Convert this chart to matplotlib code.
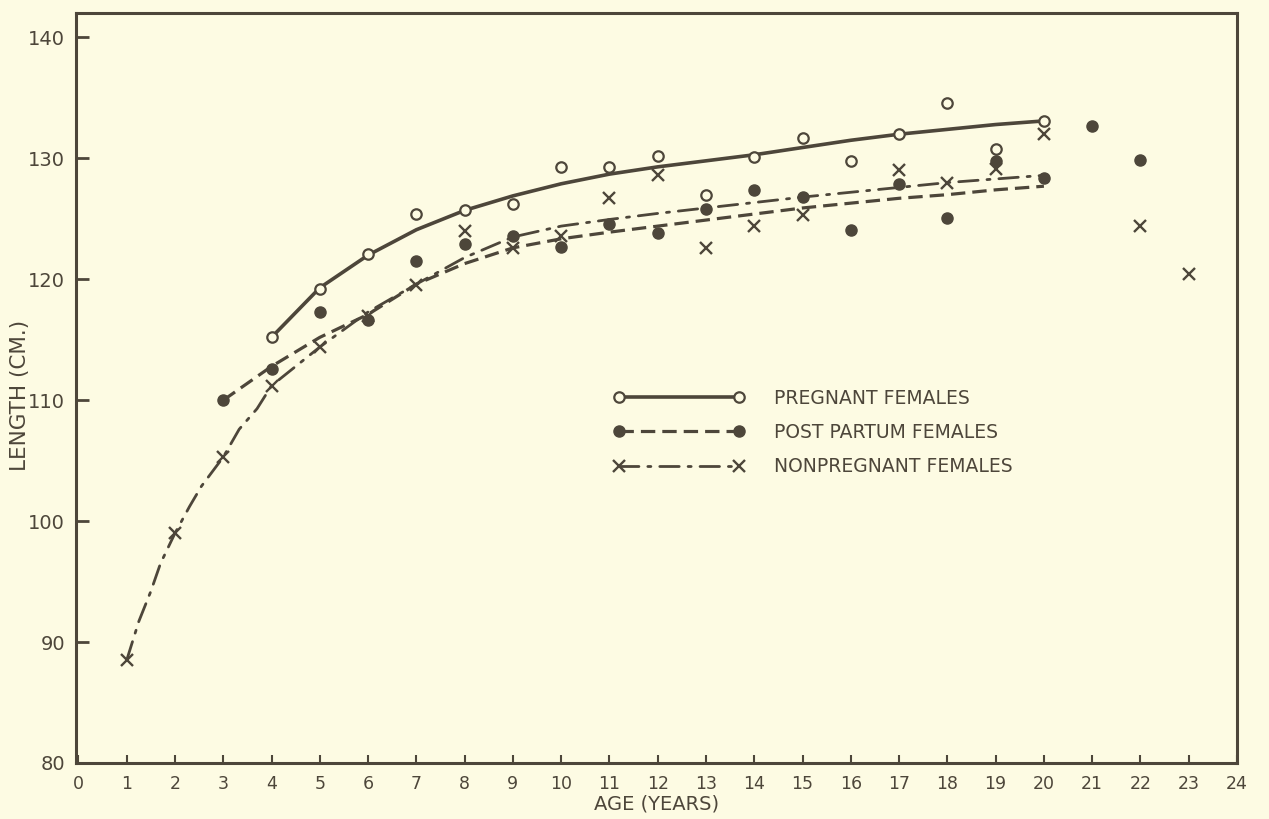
import matplotlib
matplotlib.use("Agg")
import matplotlib.pyplot as plt
from matplotlib.lines import Line2D

# ---- observed data points ----
preg_age = [4, 5, 6, 7, 8, 9, 10, 11, 12, 13, 14, 15, 16, 17, 18, 19, 20]
preg_len = [115.2, 119.2, 122.1, 125.4, 125.7, 126.2, 129.3, 129.3, 130.2, 127.0,
            130.1, 131.7, 129.8, 132.0, 134.6, 130.8, 133.1]

pp_age = [3, 4, 5, 6, 7, 8, 9, 10, 11, 12, 13, 14, 15, 16, 17, 18, 19, 20, 21, 22]
pp_len = [110.0, 112.6, 117.3, 116.6, 121.5, 122.9, 123.6, 122.7, 124.6, 123.8,
          125.8, 127.4, 126.8, 124.1, 127.9, 125.1, 129.8, 128.4, 132.7, 129.9]

np_age = [1, 2, 3, 4, 5, 6, 7, 8, 9, 10, 11, 12, 13, 14, 15, 17, 18, 19, 20, 22, 23]
np_len = [88.5, 99.0, 105.3, 111.2, 114.4, 117.0, 119.5, 124.0, 122.6, 123.6, 126.7,
          128.6, 122.6, 124.4, 125.3, 129.0, 128.0, 129.1, 132.0, 124.4, 120.4]

# ---- fitted curves ----
preg_curve_age = [4, 5, 6, 7, 8, 9, 10, 11, 12, 13, 14, 15, 16, 17, 18, 19, 20]
preg_curve_len = [115.2, 119.3, 122.0, 124.1, 125.7, 126.9, 127.9, 128.7, 129.3, 129.8,
                  130.3, 130.9, 131.5, 132.0, 132.4, 132.8, 133.1]

pp_curve_age = [3, 4, 5, 6, 7, 8, 9, 10, 11, 12, 13, 14, 15, 16, 17, 18, 19, 20]
pp_curve_len = [110.0, 112.8, 115.2, 117.1, 119.6, 121.3, 122.6, 123.35, 123.9, 124.4,
                124.9, 125.4, 125.9, 126.3, 126.7, 127.0, 127.4, 127.7]

np_curve_age = [1, 1.25, 1.5, 1.7, 2, 2.3, 2.55, 3, 3.33, 3.7, 4, 5, 6, 7, 8, 9, 10,
                11, 12, 13, 14, 15, 16, 17, 18, 19, 20]
np_curve_len = [88.5, 91.7, 94.2, 96.5, 99.0, 101.2, 102.9, 105.3, 107.6, 109.3, 111.2,
                114.4, 117.3, 119.6, 121.8, 123.5, 124.4, 124.95, 125.45, 125.9, 126.35,
                126.8, 127.2, 127.6, 128.0, 128.3, 128.6]

x_ticks = list(range(0, 25))
y_ticks = [80, 90, 100, 110, 120, 130, 140]

labels = ["PREGNANT FEMALES", "POST PARTUM FEMALES", "NONPREGNANT FEMALES"]

BG = "#fdfbe3"
INK = "#4d463a"

plt.rcParams['font.family'] = ['DejaVu Sans']

fig = plt.figure(figsize=(12.69, 8.19), dpi=100, facecolor=BG)
ax = fig.add_axes([0.0599, 0.0684, 0.9149, 0.9161])
ax.set_facecolor(BG)

dashdot = (0, (7, 3.2, 1.1, 3.2))
dashed = (0, (4.5, 2.2))

# curves
ax.plot(preg_curve_age, preg_curve_len, color=INK, lw=2.6, solid_capstyle='round')
ax.plot(pp_curve_age, pp_curve_len, color=INK, lw=2.3, linestyle=dashed)
ax.plot(np_curve_age, np_curve_len, color=INK, lw=2.0, linestyle=dashdot,
        dash_capstyle='round')

# points
ax.plot(preg_age, preg_len, linestyle='none', marker='o', ms=7.5, mfc=BG, mec=INK, mew=1.6)
ax.plot(pp_age, pp_len, linestyle='none', marker='o', ms=8, mfc=INK, mec=INK)
ax.plot(np_age, np_len, linestyle='none', marker='x', ms=9, mec=INK, mew=1.7)

ax.set_xlim(-0.05, 24.0)
ax.set_ylim(80, 142.05)
ax.set_xticks(x_ticks)
ax.set_xticklabels([str(v) for v in x_ticks])
ax.set_yticks(y_ticks)
ax.set_yticklabels([str(v) for v in y_ticks])

ax.tick_params(axis='x', direction='in', length=6, width=1.5, colors=INK,
               labelsize=12.5, pad=9, labelcolor=INK)
ax.tick_params(axis='y', direction='in', length=9, width=2, colors=INK,
               labelsize=14, pad=8, labelcolor=INK)
for s in ax.spines.values():
    s.set_color(INK)
    s.set_linewidth(2.2)

ax.set_xlabel("AGE (YEARS)", fontsize=14, color=INK, labelpad=1)
ax.set_ylabel("LENGTH (CM.)", fontsize=15.5, color=INK)
ax.yaxis.set_label_coords(-0.040, 0.49)

handles = [
    Line2D([0], [0], color=INK, lw=2.6, marker='o', ms=7.5, mfc=BG, mec=INK, mew=1.6),
    Line2D([0], [0], color=INK, lw=2.3, linestyle=dashed, marker='o', ms=8,
           mfc=INK, mec=INK),
    Line2D([0], [0], color=INK, lw=2.0, linestyle=dashdot, dash_capstyle='round',
           marker='x', ms=9, mec=INK, mew=1.7),
]
leg = ax.legend(handles, labels, loc='upper left', bbox_to_anchor=(0.4625, 0.499),
                frameon=False, numpoints=2, handlelength=7.0, handletextpad=1.6,
                labelspacing=0.82, fontsize=13.5, borderpad=0, borderaxespad=0)
for t in leg.get_texts():
    t.set_color(INK)

fig.savefig("out.png", dpi=100, facecolor=BG)
